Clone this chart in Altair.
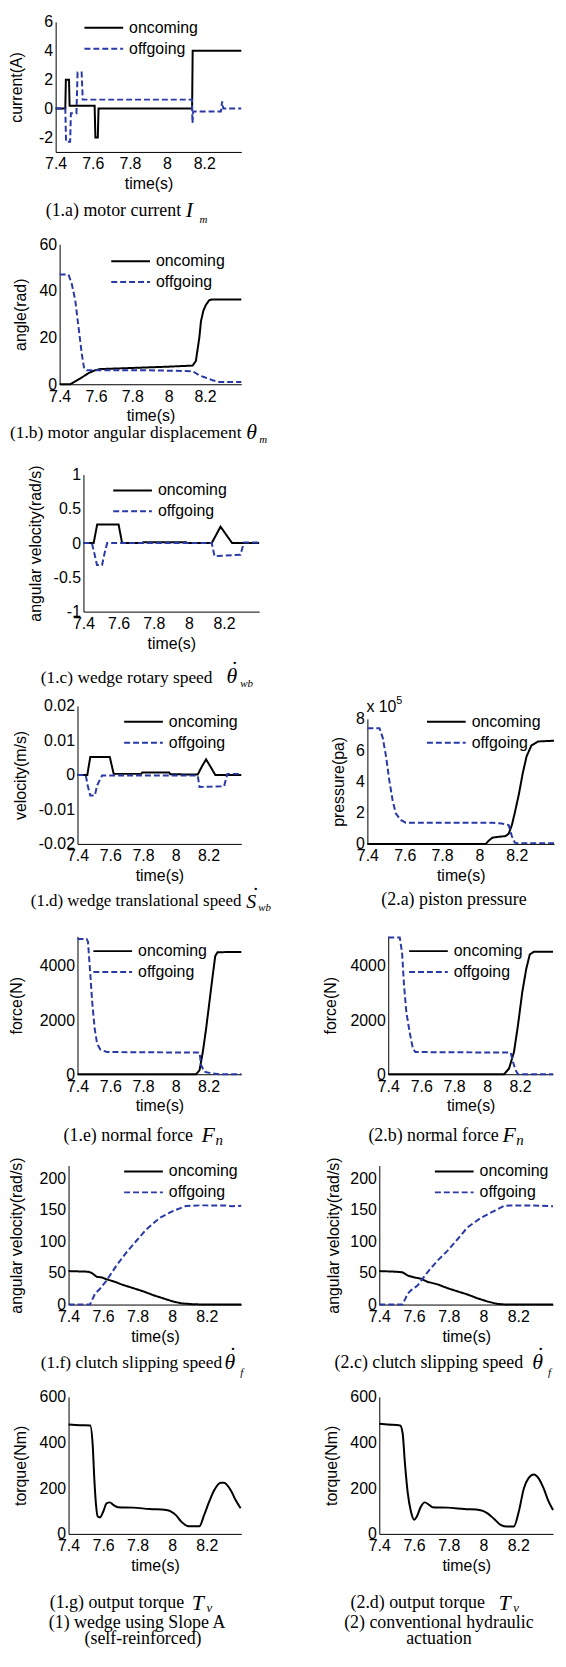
import altair as alt
import pandas as pd

SANS = "Liberation Sans"
SERIF = "Liberation Serif"
BLACK = "#000000"
BLUE = "#2a39a6"
T_DOMAIN = [7.4, 8.4]
X_TICKS = [7.4, 7.6, 7.8, 8.0, 8.2]
SERIES = ["oncoming", "offgoing"]

# whole page is one view; page pixel -> view pixel = page - 8
OX, OY = 8, 8
W, H = 550, 1647

# ---------------- data ----------------
p1a_on_t = [7.40, 7.452, 7.455, 7.472, 7.475, 7.610, 7.614, 7.627, 7.631, 8.135, 8.138, 8.40]
p1a_on_v = [0, 0, 2.0, 2.0, 0.2, 0.2, -2.0, -2.0, 0, 0, 4.0, 4.0]
p1a_off_t = [7.40, 7.452, 7.456, 7.478, 7.482, 7.512, 7.518, 7.540, 7.546, 8.134, 8.137, 8.141, 8.290, 8.297, 8.303, 8.40]
p1a_off_v = [0, 0, -2.3, -2.3, -0.33, -0.33, 2.5, 2.5, 0.62, 0.62, -1.0, -0.2, -0.2, 0.5, 0.0, 0.0]

p1b_on_t = [7.40, 7.458, 7.52, 7.56, 7.595, 7.622, 7.804, 7.987, 8.132, 8.150, 8.169, 8.178, 8.191, 8.205, 8.223, 8.236, 8.40]
p1b_on_v = [0, 0, 2.8, 4.8, 6.0, 6.5, 7.0, 7.5, 8.0, 10.0, 20.0, 27.0, 31.5, 34.0, 36.0, 36.3, 36.3]
p1b_off_t = [7.40, 7.449, 7.467, 7.486, 7.504, 7.522, 7.535, 7.55, 7.877, 8.132, 8.169, 8.205, 8.242, 8.278, 8.40]
p1b_off_v = [47, 47, 43, 36, 24.5, 13, 6.7, 6.0, 6.0, 5.6, 3.8, 2.8, 1.7, 1.0, 1.0]

p1c_on_t = [7.40, 7.458, 7.478, 7.600, 7.620, 7.735, 7.740, 7.985, 7.990, 8.13, 8.155, 8.18, 8.213, 8.246, 8.40]
p1c_on_v = [0, 0, 0.27, 0.27, 0.0, 0.0, 0.013, 0.013, 0, 0, 0.12, 0.24, 0.12, 0, 0]
p1c_off_t = [7.40, 7.448, 7.462, 7.477, 7.506, 7.520, 7.535, 8.13, 8.146, 8.294, 8.313, 8.40]
p1c_off_v = [0, 0, -0.15, -0.32, -0.32, -0.15, 0, 0, -0.19, -0.17, 0.01, 0.01]

p1d_on_t = [7.40, 7.460, 7.478, 7.597, 7.621, 7.790, 7.795, 7.960, 7.966, 8.134, 8.160, 8.185, 8.213, 8.241, 8.40]
p1d_on_v = [0, 0, 0.0052, 0.0052, 0.0003, 0.0003, 0.0007, 0.0007, 0.0002, 0.0001, 0.0025, 0.0045, 0.0023, 0, 0]
p1d_off_t = [7.40, 7.450, 7.462, 7.478, 7.506, 7.520, 7.550, 8.134, 8.145, 8.295, 8.315, 8.40]
p1d_off_v = [0, 0, -0.003, -0.006, -0.006, -0.003, -0.0002, -0.0002, -0.0035, -0.0033, 0.0003, 0.0003]

p2a_on_t = [7.40, 8.034, 8.05, 8.07, 8.10, 8.14, 8.157, 8.174, 8.19, 8.212, 8.232, 8.253, 8.279, 8.314, 8.40]
p2a_on_v = [0, 0, 0.2, 0.4, 0.45, 0.5, 0.65, 1.2, 2.0, 3.2, 4.5, 5.6, 6.3, 6.55, 6.6]
p2a_off_t = [7.40, 7.465, 7.482, 7.50, 7.517, 7.535, 7.552, 7.579, 7.605, 8.07, 8.12, 8.157, 8.174, 8.19, 8.20, 8.40]
p2a_off_v = [7.4, 7.4, 6.8, 5.6, 4.1, 2.8, 1.95, 1.53, 1.36, 1.35, 1.3, 1.2, 0.5, 0.08, 0.05, 0.05]

p1e_on_t = [7.40, 8.124, 8.145, 8.165, 8.185, 8.205, 8.225, 8.241, 8.255, 8.40]
p1e_on_v = [0, 0, 150, 820, 1680, 2650, 3630, 4370, 4510, 4520]
p1e_off_t = [7.40, 7.456, 7.464, 7.476, 7.49, 7.505, 7.52, 7.54, 7.58, 8.145, 8.155, 8.175, 8.205, 8.265, 8.40]
p1e_off_v = [5000, 5000, 4900, 3880, 2650, 1680, 1125, 905, 820, 800, 330, 90, 50, 0, 0]

p2b_on_t = [7.40, 8.103, 8.133, 8.163, 8.187, 8.213, 8.237, 8.259, 8.284, 8.40]
p2b_on_v = [0, 0, 210, 820, 1800, 3020, 3880, 4430, 4525, 4530]
p2b_off_t = [7.40, 7.47, 7.484, 7.496, 7.51, 7.53, 7.55, 7.565, 8.143, 8.157, 8.173, 8.187, 8.40]
p2b_off_v = [5050, 5050, 4490, 3270, 2290, 1550, 940, 820, 800, 450, 150, 0, 0]

p1f_on_t = [7.40, 7.515, 7.534, 7.563, 7.592, 7.62, 7.668, 7.716, 7.774, 7.831, 7.889, 7.946, 8.003, 8.051, 8.118, 8.20, 8.40]
p1f_on_v = [53, 52, 50, 44, 43, 40, 36, 31, 26, 21, 15, 10, 5, 2, 0.5, 0, 0]
p1f_off_t = [7.40, 7.524, 7.553, 7.582, 7.62, 7.678, 7.735, 7.793, 7.85, 7.927, 8.003, 8.08, 8.157, 8.195, 8.31, 8.348, 8.40]
p1f_off_v = [0, 0, 17, 25, 38, 62, 82.5, 101, 119, 137, 148, 156, 157, 157, 156.7, 155.6, 156.5]

p2c_on_t = [7.40, 7.496, 7.534, 7.563, 7.60, 7.639, 7.677, 7.735, 7.792, 7.849, 7.907, 7.964, 8.021, 8.079, 8.107, 8.13, 8.40]
p2c_on_v = [53, 52, 51, 46, 43, 41, 36, 32, 26, 21, 16, 10, 5, 1, 0.5, 0, 0]
p2c_off_t = [7.40, 7.534, 7.563, 7.582, 7.62, 7.677, 7.735, 7.792, 7.849, 7.907, 7.983, 8.06, 8.117, 8.155, 8.289, 8.40]
p2c_off_v = [0, 0, 17, 22.5, 30, 51, 69.5, 85, 103, 122, 137, 148, 156, 157, 156.7, 155.6]

p1g_t = [7.40, 7.467, 7.525, 7.54, 7.549, 7.559, 7.569, 7.582, 7.601, 7.62, 7.639, 7.659, 7.687, 7.774, 7.869,
         7.965, 7.994, 8.023, 8.051, 8.099, 8.157, 8.185, 8.214, 8.243, 8.281, 8.30, 8.339, 8.367, 8.396]
p1g_v = [479, 476, 475, 386, 242, 127, 76, 72, 98, 134, 138, 127, 117, 115, 109,
         105, 98, 81, 55, 33, 33, 83, 141, 191, 224, 224, 191, 148, 112]

p2d_t = [7.40, 7.448, 7.52, 7.534, 7.547, 7.563, 7.582, 7.601, 7.616, 7.639, 7.662, 7.687, 7.706, 7.792, 7.888,
         7.983, 8.021, 8.06, 8.098, 8.136, 8.174, 8.203, 8.232, 8.26, 8.289, 8.318, 8.346, 8.375, 8.40]
p2d_v = [482, 479, 475, 443, 314, 184, 98, 62, 76, 119, 138, 127, 117, 115, 109,
         104, 91, 66, 40, 32, 32, 98, 199, 245, 260, 242, 199, 141, 105]


def table(*series):
    rows = []
    for name, ts, vs in series:
        for i, (t, v) in enumerate(zip(ts, vs)):
            rows.append({"t": t, "v": v, "s": name, "i": i})
    return pd.DataFrame(rows)


def two(on_t, on_v, off_t, off_v):
    return table(("oncoming", on_t, on_v), ("offgoing", off_t, off_v))


ONE = alt.Data(values=[{"k": 0}])
LBL = "datum.value < 0 ? '-' + format(-datum.value, '~g') : format(datum.value, '~g')"
FS = 16


def text_mark(s, x, y, size, style="normal", font=SERIF, align="left", baseline="middle"):
    return alt.Chart(ONE).mark_text(
        text=s, align=align, baseline=baseline, font=font, fontSize=size,
        fontStyle=style, color="black"
    ).encode(x=alt.value(x - OX), y=alt.value(y - OY))


def make_panel(p):
    x0, x1, y0, y1 = p["box"]
    xenc = alt.X("t:Q",
                 scale=alt.Scale(domain=T_DOMAIN, range=[x0 - OX, x1 - OX], nice=False, zero=False),
                 axis=alt.Axis(orient="bottom", offset=(y1 - OY) - H, values=X_TICKS, title="time(s)",
                               labelExpr=LBL, labelPadding=4, titlePadding=4,
                               labelFlush=False, labelOverlap=False))
    yenc = alt.Y("v:Q",
                 scale=alt.Scale(domain=p["ydom"], range=[y1 - OY, y0 - OY], nice=False, zero=False),
                 axis=alt.Axis(orient="left", offset=-(x0 - OX), values=p["yticks"], title=p["ytitle"],
                               labelExpr=LBL, labelPadding=3, titleX=p["title_right"] - x0,
                               labelFlush=False, labelOverlap=False))
    line = alt.Chart(p["data"]).mark_line(strokeWidth=2, interpolate=p.get("interp", "linear"))
    if p.get("legend"):
        lx, ly = p["legend"]
        leg = alt.Legend(orient="none", legendX=lx - OX, legendY=ly - OY - 7.5, title=None,
                         symbolType="stroke", symbolSize=1521, symbolStrokeWidth=2,
                         labelFont=SANS, labelFontSize=FS, labelColor="black",
                         labelOffset=5, rowPadding=4, padding=0, clipHeight=15)
        line = line.encode(
            x=xenc, y=yenc, order="i:Q",
            color=alt.Color("s:N", scale=alt.Scale(domain=SERIES, range=[BLACK, BLUE]), legend=leg),
            strokeDash=alt.StrokeDash("s:N", scale=alt.Scale(domain=SERIES, range=[[1, 0], [6, 3]]),
                                      legend=leg))
    else:
        line = line.encode(x=xenc, y=yenc, order="i:Q", color=alt.value(BLACK))
    texts = []
    for c in p["captions"]:
        s, px, py, size = c[:4]
        style = c[4] if len(c) > 4 else "normal"
        font = c[5] if len(c) > 5 else SERIF
        align = c[6] if len(c) > 6 else "left"
        baseline = c[7] if len(c) > 7 else "middle"
        texts.append(text_mark(s, px, py, size, style, font, align, baseline))
    return [line] + texts


panels = [
    dict(data=two(p1a_on_t, p1a_on_v, p1a_off_t, p1a_off_v), box=(55, 242, 16, 147),
         ydom=[-3, 6], yticks=[-2, 0, 2, 4, 6], ytitle="current(A)", title_right=24, legend=(83, 22),
         captions=[("(1.a) motor current", 45, 207, 18), ("I", 186, 206, 22, "italic"),
                   ("m", 200, 216, 11, "italic")]),
    dict(data=two(p1b_on_t, p1b_on_v, p1b_off_t, p1b_off_v), box=(59, 242, 240, 381),
         ydom=[0, 60], yticks=[0, 20, 40, 60], ytitle="angle(rad)", title_right=28, legend=(110, 257),
         captions=[("(1.b) motor angular displacement", 9, 430, 17.5), ("θ", 247, 429, 22, "italic"),
                   ("m", 260, 437, 11, "italic")]),
    dict(data=two(p1c_on_t, p1c_on_v, p1c_off_t, p1c_off_v), box=(83, 260, 472, 610),
         ydom=[-1, 1], yticks=[-1, -0.5, 0, 0.5, 1], ytitle="angular velocity(rad/s)", title_right=43,
         legend=(112, 488),
         captions=[("(1.c) wedge rotary speed", 40, 677, 17.5), ("θ", 227, 675, 22, "italic"),
                   (".", 233, 663, 20, "normal", SERIF, "left", "alphabetic"),
                   ("wb", 241, 683, 11, "italic")]),
    dict(data=two(p1d_on_t, p1d_on_v, p1d_off_t, p1d_off_v), box=(77, 242, 705, 844),
         ydom=[-0.02, 0.02], yticks=[-0.02, -0.01, 0, 0.01, 0.02], ytitle="velocity(m/s)", title_right=28,
         legend=(123, 721),
         captions=[("(1.d) wedge translational speed", 30, 902, 17), ("S", 247, 903, 20, "italic"),
                   (".", 254, 890, 20, "normal", SERIF, "left", "alphabetic"),
                   ("wb", 259, 909, 11, "italic")]),
    dict(data=two(p2a_on_t, p2a_on_v, p2a_off_t, p2a_off_v), box=(369, 557, 718, 844),
         ydom=[0, 8], yticks=[0, 2, 4, 6, 8], ytitle="pressure(pa)", title_right=348, legend=(428, 721),
         captions=[("(2.a) piston pressure", 383, 901, 18), ("x 10", 368, 706, FS, "normal", SANS),
                   ("5", 398, 700, 11, "normal", SANS)]),
    dict(data=two(p1e_on_t, p1e_on_v, p1e_off_t, p1e_off_v), box=(77, 242, 937, 1076),
         ydom=[0, 5100], yticks=[0, 2000, 4000], ytitle="force(N)", title_right=24, legend=(92, 952),
         captions=[("(1.e) normal force", 63, 1138, 18), ("F", 202, 1137, 22, "italic"),
                   ("n", 216, 1142, 15, "italic")]),
    dict(data=two(p2b_on_t, p2b_on_v, p2b_off_t, p2b_off_v), box=(390, 556, 937, 1076),
         ydom=[0, 5100], yticks=[0, 2000, 4000], ytitle="force(N)", title_right=340, legend=(410, 952),
         captions=[("(2.b) normal force", 370, 1138, 18), ("F", 505, 1137, 22, "italic"),
                   ("n", 519, 1142, 15, "italic")]),
    dict(data=two(p1f_on_t, p1f_on_v, p1f_off_t, p1f_off_v), box=(68, 242, 1168, 1308),
         ydom=[0, 220], yticks=[0, 50, 100, 150, 200], ytitle="angular velocity(rad/s)", title_right=24,
         legend=(123, 1174),
         captions=[("(1.f) clutch slipping speed", 40, 1367, 17.5), ("θ", 225, 1366, 22, "italic"),
                   (".", 231, 1354, 20, "normal", SERIF, "left", "alphabetic"),
                   ("f", 241, 1377, 11, "italic")]),
    dict(data=two(p2c_on_t, p2c_on_v, p2c_off_t, p2c_off_v), box=(381, 556, 1168, 1308),
         ydom=[0, 220], yticks=[0, 50, 100, 150, 200], ytitle="angular velocity(rad/s)", title_right=343,
         legend=(436, 1174),
         captions=[("(2.c) clutch slipping speed", 336, 1367, 18), ("θ", 535, 1366, 22, "italic"),
                   (".", 541, 1354, 20, "normal", SERIF, "left", "alphabetic"),
                   ("f", 551, 1377, 11, "italic")]),
    dict(data=table(("oncoming", p1g_t, p1g_v)), box=(68, 242, 1401, 1539),
         ydom=[0, 600], yticks=[0, 200, 400, 600], ytitle="torque(Nm)", title_right=28, interp="monotone",
         captions=[("(1.g) output torque", 49, 1609, 18), ("T", 192, 1609, 22, "italic"),
                   ("v", 207, 1614, 13, "italic"),
                   ("(1) wedge using Slope A", 137, 1629, 18, "normal", SERIF, "center"),
                   ("(self-reinforced)", 143, 1645, 18, "normal", SERIF, "center")]),
    dict(data=table(("oncoming", p2d_t, p2d_v)), box=(381, 556, 1401, 1539),
         ydom=[0, 600], yticks=[0, 200, 400, 600], ytitle="torque(Nm)", title_right=341, interp="monotone",
         captions=[("(2.d) output torque", 352, 1609, 18), ("T", 501, 1609, 22, "italic"),
                   ("v", 516, 1614, 13, "italic"),
                   ("(2) conventional hydraulic", 441, 1629, 18, "normal", SERIF, "center"),
                   ("actuation", 441, 1645, 18, "normal", SERIF, "center")]),
]

layers = []
for p in panels:
    layers.extend(make_panel(p))

chart = alt.layer(*layers).properties(width=W, height=H, padding=0).resolve_scale(
    x="independent", y="independent", color="independent", strokeDash="independent"
).resolve_axis(x="independent", y="independent").resolve_legend(
    color="independent", strokeDash="independent"
).configure_view(stroke=None).configure_axis(
    grid=False, ticks=False, tickSize=0, domainColor="black", domainWidth=1,
    labelFont=SANS, labelFontSize=FS, labelColor="black",
    titleFont=SANS, titleFontSize=FS, titleFontWeight="normal", titleColor="black")

chart.save("out.html", embed_options={"renderer": "svg", "actions": False})
